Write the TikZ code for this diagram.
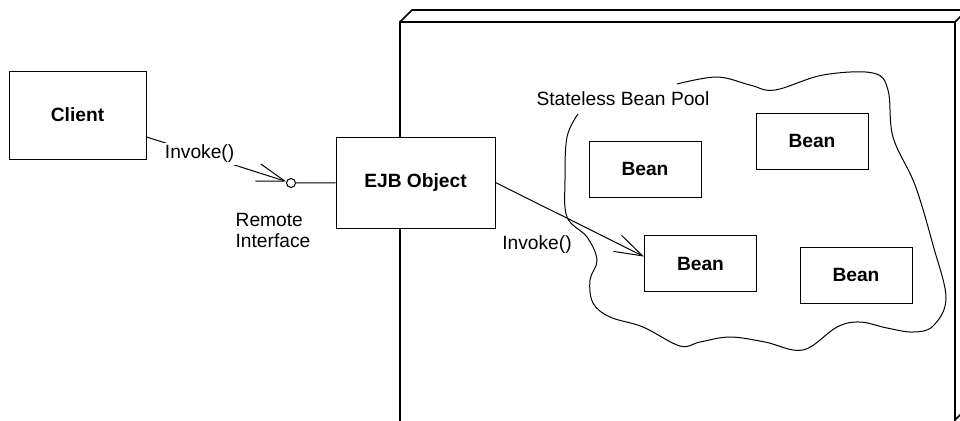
\documentclass[tikz,border=0pt]{standalone}
\usepackage{fontspec}
\setmainfont{Liberation Sans}
\usetikzlibrary{positioning,arrows.meta}

\begin{document}
\begin{tikzpicture}[x=0.5pt,y=-0.5pt,
        font=\fontsize{9.6}{10.6}\selectfont,
        box/.style={draw,fill=white,line width=0.5pt,font=\fontsize{9.6}{10.6}\selectfont\bfseries},
        bean/.style={box,minimum width=56pt,minimum height=28pt},
        invoke/.style={line width=0.5pt,-{Straight Barb[length=14pt,width=9pt]}}]
            \useasboundingbox (0,0) rectangle (960,420);
            % container
            \begin{scope}[line width=0.8pt]
                \clip (0,0) rectangle (960,420);
                \draw (400,430) -- (400,22) -- (955,22) -- (955,430);
                \draw (400,22) -- (412,10) -- (967,10) -- (955,22);
                \draw (967,10) -- (967,408) -- (955,420);
            \end{scope}
            % pool
            \draw[line width=0.5pt] plot[smooth,tension=0.6] coordinates {(677,84) (717,77) (750,85) (775,90) (823,75)
                (873,73) (888,90) (893,137) (915,185) (933,245) (946,298) (933,326) (913,332) (887,328) (860,322)
                (837,327) (803,350) (765,342) (730,337) (700,342) (680,346) (643,327) (610,317) (593,303)
                (590,280) (597,260) (587,237) (567,217) (565,180) (567,137) (578,114)};
            \draw node (pool) at (623,99) {Stateless Bean Pool} ;
            \draw node[box,minimum width=68.5pt,minimum height=44pt] (client) at (77.5,115) {Client} ;
            \draw node[box,minimum width=79.5pt,minimum height=45.5pt] (ejb) at (415.5,182.5) {EJB Object} ;
            \draw node[circle,draw,line width=0.5pt,inner sep=0pt,minimum size=4.5pt] (ri) at (291,183) {} ;
            \draw node[below=9pt of ri,xshift=-9pt,align=left] (ril) {Remote\\Interface} ;
            \draw node[bean] (b1) at (645,169) {Bean} ;
            \draw node[bean] (b2) at (812,141) {Bean} ;
            \draw node[bean] (b3) at (700.5,263.5) {Bean} ;
            \draw node[bean] (b4) at (856,275) {Bean} ;
            \draw[invoke] (client) -- node[pos=0.38,fill=white,inner sep=1pt] {Invoke()} (ri) ;
            \draw[line width=0.5pt] (ri) -- (ejb) ;
            \draw[invoke] (ejb.east) -- (b3.173) ;
            \draw node (inv) at (537,245) {Invoke()} ;
        \end{tikzpicture}
\end{document}
